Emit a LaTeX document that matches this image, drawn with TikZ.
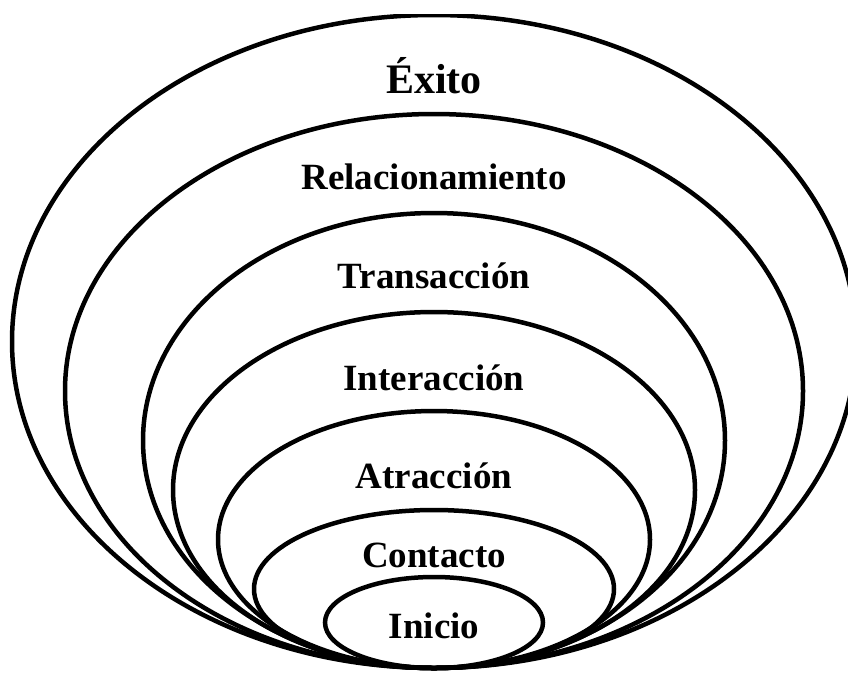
\documentclass[tikz,border=0pt]{standalone}
\usepackage{fontspec}
\setmainfont{Liberation Serif}
\begin{document}
\begin{tikzpicture}[x=1pt,y=-1pt,
  ring/.style={line width=4.5pt,draw=black},
  lbl/.style={anchor=base,inner sep=0pt,font=\fontsize{37}{40}\selectfont\bfseries},
  biglbl/.style={anchor=base,inner sep=0pt,font=\fontsize{42}{46}\selectfont\bfseries}]
\useasboundingbox[fill=white] (0,0) rectangle (848,673);
\begin{scope}
\clip (0,14) rectangle (848,673);
\draw[ring] (434,341.5) ellipse [x radius=422, y radius=326.5];
\draw[ring] (434,391) ellipse [x radius=369, y radius=277];
\draw[ring] (434,440.5) ellipse [x radius=291, y radius=227.5];
\draw[ring] (434,490) ellipse [x radius=261, y radius=178];
\draw[ring] (434,539.5) ellipse [x radius=216, y radius=128.5];
\draw[ring] (434,589) ellipse [x radius=180, y radius=79];
\draw[ring] (434,622.5) ellipse [x radius=109, y radius=45.5];
\end{scope}
\node[biglbl] (exito) at (434,93) {Éxito};
\node[lbl] (rel) at (434,189) {Relacionamiento};
\node[lbl] (tra) at (434,288) {Transacción};
\node[lbl] (int) at (434,390) {Interacción};
\node[lbl] (atr) at (434,488) {Atracción};
\node[lbl] (con) at (434,567) {Contacto};
\node[lbl] (ini) at (434,638) {Inicio};
\end{tikzpicture}
\end{document}
